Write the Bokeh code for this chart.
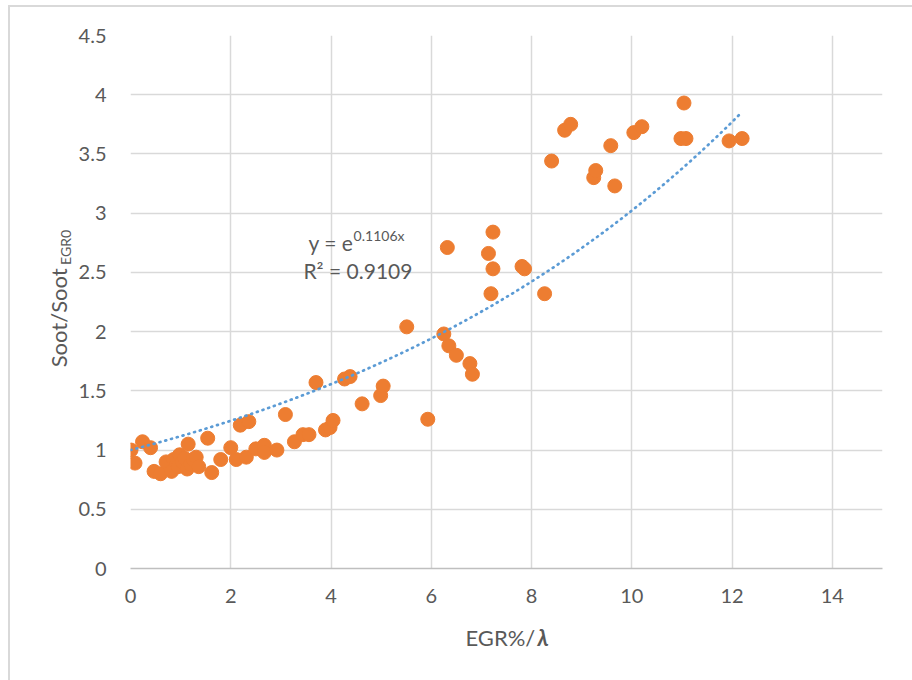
import math
from bokeh.plotting import figure
from bokeh.models import Label, FixedTicker, Range1d
from bokeh.layouts import row, column
from bokeh.embed import file_html
from bokeh.resources import INLINE

# ---- data ----
egr_lambda = [0.01, 0.09, 0.24, 0.40, 0.47, 0.60, 0.71, 0.82, 0.86, 0.92, 0.95, 0.98,
              1.03, 1.08, 1.13, 1.15, 1.20, 1.25, 1.31, 1.36, 1.54, 1.62, 1.80, 2.00,
              2.11, 2.19, 2.36, 2.31, 2.50, 2.67, 2.67, 2.92, 3.09, 3.27, 3.44, 3.56,
              3.70, 3.89, 3.98, 4.04, 4.27, 4.38, 4.62, 4.99, 5.04, 5.51, 5.93, 6.25,
              6.32, 6.35, 6.50, 6.77, 6.82, 7.14, 7.19, 7.23, 7.23, 7.81, 7.86, 8.26,
              8.40, 8.66, 8.78, 9.24, 9.28, 9.58, 9.66, 10.04, 10.20, 10.98, 11.08,
              11.04, 11.94, 12.20]
soot_ratio = [1.00, 0.89, 1.07, 1.02, 0.82, 0.80, 0.90, 0.82, 0.92, 0.88, 0.86, 0.96,
              0.90, 0.93, 0.84, 1.05, 0.88, 0.92, 0.94, 0.86, 1.10, 0.81, 0.92, 1.02,
              0.92, 1.21, 1.24, 0.94, 1.01, 1.04, 0.98, 1.00, 1.30, 1.07, 1.13, 1.13,
              1.57, 1.17, 1.19, 1.25, 1.60, 1.62, 1.39, 1.46, 1.54, 2.04, 1.26, 1.98,
              2.71, 1.88, 1.80, 1.73, 1.64, 2.66, 2.32, 2.84, 2.53, 2.55, 2.53, 2.32,
              3.44, 3.70, 3.75, 3.30, 3.36, 3.57, 3.23, 3.68, 3.73, 3.63, 3.63,
              3.93, 3.61, 3.63]

trend_coef = 0.1106          # y = e^(0.1106 x)
trend_x_end = 12.2
x_ticks = [0, 2, 4, 6, 8, 10, 12, 14]
y_ticks = [0, 0.5, 1, 1.5, 2, 2.5, 3, 3.5, 4, 4.5]
y_tick_labels = ["0", "0.5", "1", "1.5", "2", "2.5", "3", "3.5", "4", "4.5"]
equation_main = "y = e"
equation_exp = "0.1106x"
r_squared_text = "R² = 0.9109"
x_title_main = "EGR%/"
x_title_sym = "λ"
y_title_main = "Soot/Soot"
y_title_sub = "EGR0"

FONT = "Lato"
TXT = "#595959"
GRID = "#D9D9D9"

# ---------------- main plot ----------------
p = figure(width=837, height=606, x_range=Range1d(0, 15), y_range=Range1d(0, 4.5),
           output_backend="svg", toolbar_location=None,
           min_border_left=55, min_border_right=30, min_border_top=28, min_border_bottom=45,
           margin=0)
p.outline_line_color = None

p.xaxis.ticker = FixedTicker(ticks=x_ticks)
p.yaxis.ticker = FixedTicker(ticks=y_ticks)
p.xgrid.ticker = FixedTicker(ticks=x_ticks)
p.ygrid.ticker = FixedTicker(ticks=y_ticks)
p.yaxis.major_label_overrides = {t: l for t, l in zip(y_ticks, y_tick_labels)}
p.grid.grid_line_color = GRID
p.grid.grid_line_width = 1.5

for ax in (p.xaxis[0], p.yaxis[0]):
    ax.major_tick_line_color = None
    ax.minor_tick_line_color = None
    ax.major_label_text_font = FONT
    ax.major_label_text_font_size = "20px"
    ax.major_label_text_color = TXT
p.xaxis.axis_line_color = "#BFBFBF"
p.xaxis.axis_line_width = 1.5
p.yaxis.axis_line_color = None
p.xaxis.major_label_standoff = 14
p.yaxis.major_label_standoff = 18

p.scatter(egr_lambda, soot_ratio, size=14, fill_color="#ED7D31", line_color="#ED7D31",
          line_width=1)

n = 200
tx = [trend_x_end * i / (n - 1) for i in range(n)]
ty = [math.exp(trend_coef * v) for v in tx]
p.line(tx, ty, line_color="#5B9BD5", line_width=2.7, line_dash="1 5", line_cap="round")


def lab(fig, x, y, text, size="21px", align="left", baseline="middle", angle=0,
        style="normal"):
    fig.add_layout(Label(x=x, y=y, text=text, text_font=FONT, text_font_size=size,
                         text_color=TXT, text_align=align, text_baseline=baseline,
                         angle=angle, text_font_style=style))

lab(p, 3.55, 2.75, equation_main)
lab(p, 4.45, 2.81, equation_exp, size="14px")
lab(p, 3.45, 2.52, r_squared_text)


def blank(w, h):
    f = figure(width=w, height=h, x_range=Range1d(0, w), y_range=Range1d(0, h),
               output_backend="svg", toolbar_location=None, min_border=0, margin=0,
               x_axis_type=None, y_axis_type=None)
    f.grid.visible = False
    f.outline_line_color = None
    return f

# ---------------- y title panel ----------------
yt = blank(65, 606)
lab(yt, 48, 285, y_title_main, size="22px", align="center", angle=math.pi / 2)
lab(yt, 55, 365, y_title_sub, size="14px", align="center", angle=math.pi / 2)

# ---------------- x title panel ----------------
xt = blank(902, 67)
lab(xt, 455, 43, x_title_main, size="22px")
lab(xt, 527, 43, x_title_sym, size="22px", style="bold italic")

layout = column(row(yt, p, margin=0, spacing=0), xt, margin=(5, 0, 0, 8), spacing=0,
                styles={"border-left": "2px solid #D9D9D9", "border-top": "2px solid #D9D9D9"})

open("out.html", "w").write(file_html(layout, INLINE))
